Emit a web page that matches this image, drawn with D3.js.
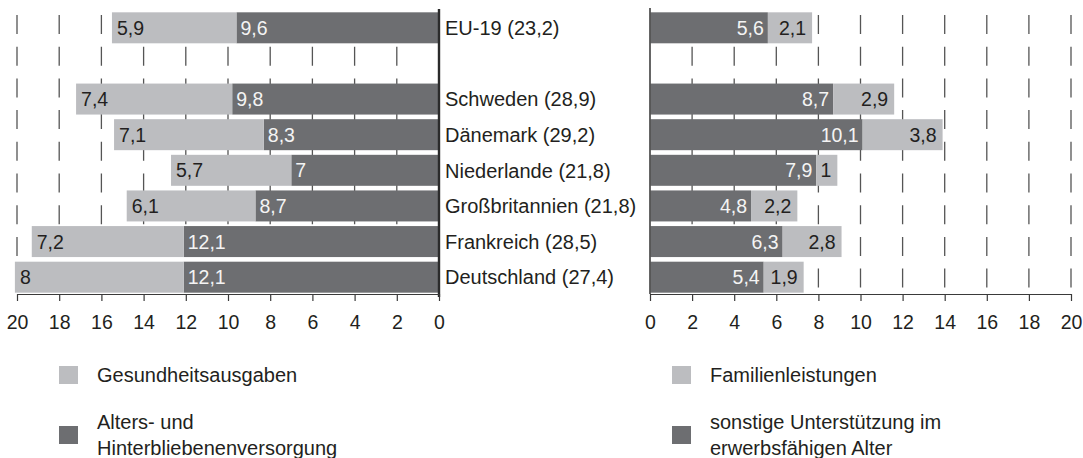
<!DOCTYPE html>
<html lang="de">
  <head>
    <meta charset="utf-8">
    <title>Sozialausgaben</title>
    <script src="https://d3js.org/d3.v7.min.js"></script>
    <style>
      body { margin: 0; background: #fff; }
      svg text { font-family: "Liberation Sans", Arial, sans-serif; fill: #231f20; }
      .achse path { stroke: #3a3a3a; stroke-width: 1.2; }
      .achse line { stroke: #3a3a3a; stroke-width: 1.2; }
      .achse text { font-size: 19.5px; }
    </style>
  </head>
  <body>
    <div id="chart"></div>
    <script>
      "use strict"

      // Daten (leere Zeile zwischen EU-19 und den Ländern)
      const laender = ["EU-19 (23,2)", "", "Schweden (28,9)", "Dänemark (29,2)", "Niederlande (21,8)",
                       "Großbritannien (21,8)", "Frankreich (28,5)", "Deutschland (27,4)"];
      const alter      = [9.6, null, 9.8, 8.3, 7, 8.7, 12.1, 12.1];
      const gesundheit = [5.9, null, 7.4, 7.1, 5.7, 6.1, 7.2, 8];
      const sonstige   = [5.6, null, 8.7, 10.1, 7.9, 4.8, 6.3, 5.4];
      const familie    = [2.1, null, 2.9, 3.8, 1, 2.2, 2.8, 1.9];
      const ticks = [0, 2, 4, 6, 8, 10, 12, 14, 16, 18, 20];

      const hell = "#bcbdc0", dunkel = "#6d6e71";
      const fmt = v => String(v).replace(".", ",");

      const breite = 1083, hoehe = 458;
      const achseY = 294;

      const svg = d3.select("#chart").append("svg")
        .attr("width", breite).attr("height", hoehe);

      const xLinks = d3.scaleLinear().domain([0, 20]).range([439, 17]);
      const xRechts = d3.scaleLinear().domain([0, 20]).range([650, 1071]);
      const y = d3.scaleBand()
        .domain(d3.range(laender.length))
        .range([10, 295])
        .paddingInner(0.13)
        .paddingOuter(0.065);

      const zeilen = d3.range(laender.length).filter(i => laender[i] !== "");

      // gestrichelte Gitterlinien
      [xLinks, xRechts].forEach(x => {
        svg.append("g").selectAll("line")
          .data(ticks.filter(t => t > 0))
          .join("line")
            .attr("x1", d => x(d)).attr("x2", d => x(d))
            .attr("y1", 15).attr("y2", achseY)
            .attr("stroke", "#555")
            .attr("stroke-width", 1.3)
            .attr("stroke-dasharray", "19,12.7");
      });

      // linke Seite: Alter (dunkel, an der Nulllinie) + Gesundheit (hell, außen)
      const links = svg.append("g");
      links.selectAll("rect.alter")
        .data(zeilen).join("rect")
          .attr("x", i => xLinks(alter[i]))
          .attr("y", i => y(i))
          .attr("width", i => xLinks(0) - xLinks(alter[i]))
          .attr("height", y.bandwidth())
          .attr("fill", dunkel);
      links.selectAll("rect.ges")
        .data(zeilen).join("rect")
          .attr("x", i => xLinks(alter[i] + gesundheit[i]))
          .attr("y", i => y(i))
          .attr("width", i => xLinks(alter[i]) - xLinks(alter[i] + gesundheit[i]))
          .attr("height", y.bandwidth())
          .attr("fill", hell);
      links.selectAll("text.alter")
        .data(zeilen).join("text")
          .attr("x", i => xLinks(alter[i]) + 4)
          .attr("y", i => y(i) + y.bandwidth() / 2)
          .attr("dy", "0.36em")
          .style("font-size", "19.5px")
          .style("fill", "#f4f4f4")
          .text(i => fmt(alter[i]));
      links.selectAll("text.ges")
        .data(zeilen).join("text")
          .attr("x", i => xLinks(alter[i] + gesundheit[i]) + 5)
          .attr("y", i => y(i) + y.bandwidth() / 2)
          .attr("dy", "0.36em")
          .style("font-size", "19.5px")
          .text(i => fmt(gesundheit[i]));

      // rechte Seite: sonstige (dunkel) + Familie (hell)
      const rechts = svg.append("g");
      rechts.selectAll("rect.sonst")
        .data(zeilen).join("rect")
          .attr("x", xRechts(0))
          .attr("y", i => y(i))
          .attr("width", i => xRechts(sonstige[i]) - xRechts(0))
          .attr("height", y.bandwidth())
          .attr("fill", dunkel);
      rechts.selectAll("rect.fam")
        .data(zeilen).join("rect")
          .attr("x", i => xRechts(sonstige[i]))
          .attr("y", i => y(i))
          .attr("width", i => xRechts(sonstige[i] + familie[i]) - xRechts(sonstige[i]))
          .attr("height", y.bandwidth())
          .attr("fill", hell);
      rechts.selectAll("text.sonst")
        .data(zeilen).join("text")
          .attr("x", i => xRechts(sonstige[i]) - 4)
          .attr("y", i => y(i) + y.bandwidth() / 2)
          .attr("dy", "0.36em")
          .attr("text-anchor", "end")
          .style("font-size", "19.5px")
          .style("fill", "#f4f4f4")
          .text(i => fmt(sonstige[i]));
      rechts.selectAll("text.fam")
        .data(zeilen).join("text")
          .attr("x", i => xRechts(sonstige[i] + familie[i]) - 6)
          .attr("y", i => y(i) + y.bandwidth() / 2)
          .attr("dy", "0.36em")
          .attr("text-anchor", "end")
          .style("font-size", "19.5px")
          .text(i => fmt(familie[i]));

      // Nulllinien
      svg.append("line")
        .attr("x1", xLinks(0)).attr("x2", xLinks(0))
        .attr("y1", 9).attr("y2", achseY + 3)
        .attr("stroke", "#2b2b2b").attr("stroke-width", 2.4);
      svg.append("line")
        .attr("x1", xRechts(0)).attr("x2", xRechts(0))
        .attr("y1", 8).attr("y2", achseY)
        .attr("stroke", "#555").attr("stroke-width", 1.8);

      // Länderbeschriftung
      svg.append("g").selectAll("text")
        .data(zeilen).join("text")
          .attr("x", 445)
          .attr("y", i => y(i) + y.bandwidth() / 2)
          .attr("dy", "0.36em")
          .style("font-size", "20px")
          .text(i => laender[i]);

      // Achsen
      [xLinks, xRechts].forEach(x => {
        svg.append("g")
          .attr("class", "achse")
          .attr("transform", `translate(0,${achseY})`)
          .call(d3.axisBottom(x).tickValues(ticks).tickSize(7).tickSizeOuter(0).tickPadding(14)
            .tickFormat(d => d));
      });

      // Legenden
      const legende = [
        { x: 59, y: 366, farbe: hell, zeilen: ["Gesundheitsausgaben"] },
        { x: 59, y: 426, farbe: dunkel, zeilen: ["Alters- und", "Hinterbliebenenversorgung"] },
        { x: 672, y: 366, farbe: hell, zeilen: ["Familienleistungen"] },
        { x: 672, y: 426, farbe: dunkel, zeilen: ["sonstige Unterstützung im", "erwerbsfähigen Alter"] }
      ];
      const lg = svg.append("g").selectAll("g")
        .data(legende).join("g")
          .attr("transform", d => `translate(${d.x},${d.y})`);
      lg.append("rect")
        .attr("width", 19).attr("height", 18)
        .attr("fill", d => d.farbe);
      lg.each(function (d) {
        const g = d3.select(this);
        const start = d.zeilen.length === 1 ? 16 : 3;
        d.zeilen.forEach((z, k) => {
          g.append("text")
            .attr("x", 38)
            .attr("y", start + k * 26)
            .style("font-size", "20px")
            .text(z);
        });
      });
    </script>
  </body>
</html>
